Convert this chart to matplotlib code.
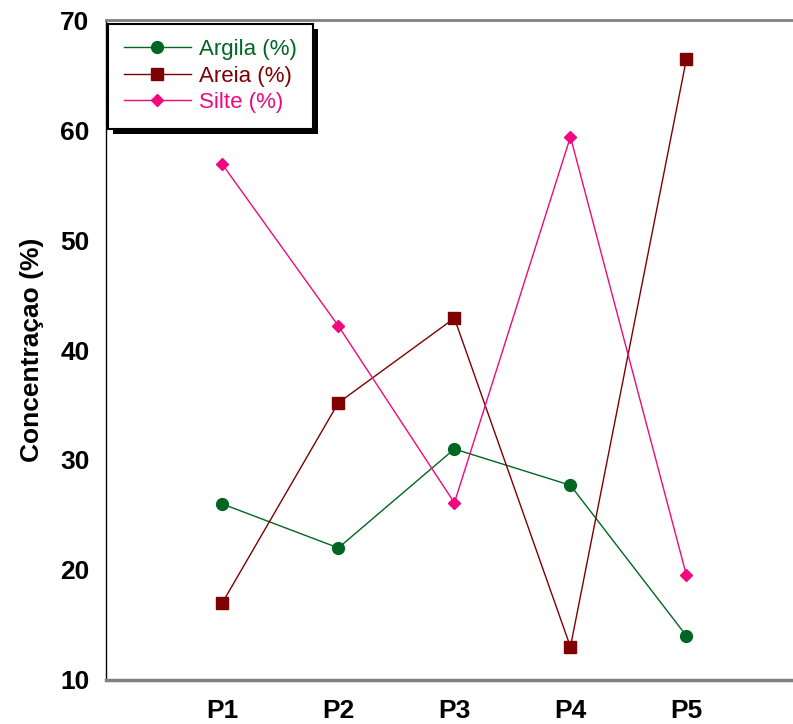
import matplotlib.pyplot as plt
from matplotlib.patches import Rectangle

plt.rcParams['font.family'] = ['Liberation Sans', 'DejaVu Sans']

points = ["P1", "P2", "P3", "P4", "P5"]
argila = [26.0, 22.0, 31.0, 27.7, 14.0]
areia = [17.0, 35.2, 42.9, 13.0, 66.5]
silte = [56.9, 42.2, 26.1, 59.4, 19.5]

green = "#006622"
red = "#7f0000"
pink = "#f0087f"

fig = plt.figure(figsize=(7.93, 7.24), dpi=100)
ax = fig.add_axes([0.134, 0.061, 0.878, 0.911])

x = range(1, len(points) + 1)
ax.plot(x, argila, color=green, lw=1, marker="o", ms=8.5, label="Argila (%)")
ax.plot(x, areia, color=red, lw=1, marker="s", ms=8.5, label="Areia (%)")
ax.plot(x, silte, color=pink, lw=1, marker="D", ms=6, label="Silte (%)")

ax.set_xlim(0, 6)
ax.set_ylim(10, 70)
ax.set_xticks(list(x))
ax.set_xticklabels(points)
ax.set_yticks(range(10, 71, 10))
ax.tick_params(length=0, labelsize=19)
ax.tick_params(axis="y", pad=12)
ax.tick_params(axis="x", pad=14)
for lab in ax.get_xticklabels() + ax.get_yticklabels():
    lab.set_fontweight("bold")
ax.set_ylabel("Concentraçao (%)", fontsize=19, fontweight="bold", labelpad=12)

ax.spines["right"].set_visible(False)
ax.spines["top"].set_color("#808080")
ax.spines["top"].set_linewidth(2)
ax.spines["bottom"].set_color("#808080")
ax.spines["bottom"].set_linewidth(2.5)
ax.spines["left"].set_color("black")
ax.spines["left"].set_linewidth(1)

leg = ax.legend(loc="upper left", bbox_to_anchor=(0.003, 0.995), fancybox=False,
                framealpha=1, fontsize=16, handlelength=3.0, borderpad=0.7,
                labelspacing=0.25, handletextpad=0.4, borderaxespad=0)
leg.get_frame().set_edgecolor("black")
leg.get_frame().set_linewidth(1.5)
leg.set_zorder(6)
for text, c in zip(leg.get_texts(), [green, red, pink]):
    text.set_color(c)

# black drop shadow behind the legend box
fig.canvas.draw()
bb = leg.get_frame().get_window_extent()
shadow = Rectangle((bb.x0 + 5, bb.y0 - 5), bb.width, bb.height, facecolor="black",
                   edgecolor="none", transform=None, zorder=5.5, clip_on=False)
ax.add_artist(shadow)

plt.savefig("out.png", dpi=100)
